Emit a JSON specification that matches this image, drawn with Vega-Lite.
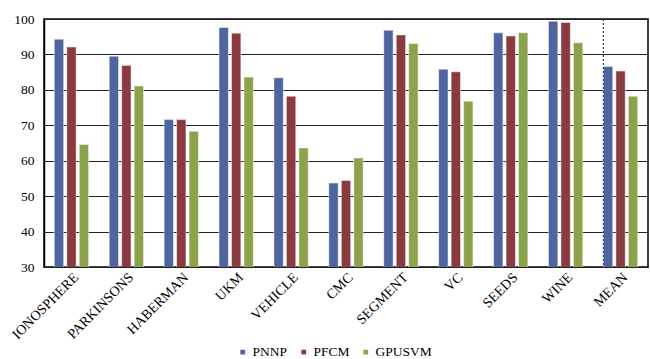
{
  "$schema": "https://vega.github.io/schema/vega-lite/v6.json",
  "width": 604,
  "height": 248,
  "autosize": "none",
  "padding": {"left": 44, "top": 19, "right": 2, "bottom": 92},
  "background": "white",
  "config": {
    "font": "'Liberation Serif', 'Times New Roman', Times, serif",
    "view": {"stroke": "#000", "strokeWidth": 1.5},
    "axis": {"labelFont": "'Liberation Serif', 'Times New Roman', Times, serif", "labelColor": "#000"},
    "legend": {"labelFont": "'Liberation Serif', 'Times New Roman', Times, serif", "labelColor": "#000"}
  },
  "datasets": {
    "scores": [
      {"dataset": "IONOSPHERE", "method": "PNNP", "value": 94.3},
      {"dataset": "IONOSPHERE", "method": "PFCM", "value": 92.1},
      {"dataset": "IONOSPHERE", "method": "GPUSVM", "value": 64.6},
      {"dataset": "PARKINSONS", "method": "PNNP", "value": 89.5},
      {"dataset": "PARKINSONS", "method": "PFCM", "value": 86.9},
      {"dataset": "PARKINSONS", "method": "GPUSVM", "value": 81.1},
      {"dataset": "HABERMAN", "method": "PNNP", "value": 71.6},
      {"dataset": "HABERMAN", "method": "PFCM", "value": 71.6},
      {"dataset": "HABERMAN", "method": "GPUSVM", "value": 68.3},
      {"dataset": "UKM", "method": "PNNP", "value": 97.6},
      {"dataset": "UKM", "method": "PFCM", "value": 96.0},
      {"dataset": "UKM", "method": "GPUSVM", "value": 83.6},
      {"dataset": "VEHICLE", "method": "PNNP", "value": 83.4},
      {"dataset": "VEHICLE", "method": "PFCM", "value": 78.2},
      {"dataset": "VEHICLE", "method": "GPUSVM", "value": 63.6},
      {"dataset": "CMC", "method": "PNNP", "value": 53.7},
      {"dataset": "CMC", "method": "PFCM", "value": 54.4},
      {"dataset": "CMC", "method": "GPUSVM", "value": 60.8},
      {"dataset": "SEGMENT", "method": "PNNP", "value": 96.8},
      {"dataset": "SEGMENT", "method": "PFCM", "value": 95.5},
      {"dataset": "SEGMENT", "method": "GPUSVM", "value": 93.1},
      {"dataset": "VC", "method": "PNNP", "value": 85.8},
      {"dataset": "VC", "method": "PFCM", "value": 85.1},
      {"dataset": "VC", "method": "GPUSVM", "value": 76.8},
      {"dataset": "SEEDS", "method": "PNNP", "value": 96.1},
      {"dataset": "SEEDS", "method": "PFCM", "value": 95.2},
      {"dataset": "SEEDS", "method": "GPUSVM", "value": 96.1},
      {"dataset": "WINE", "method": "PNNP", "value": 99.4},
      {"dataset": "WINE", "method": "PFCM", "value": 99.0},
      {"dataset": "WINE", "method": "GPUSVM", "value": 93.3},
      {"dataset": "MEAN", "method": "PNNP", "value": 86.6},
      {"dataset": "MEAN", "method": "PFCM", "value": 85.3},
      {"dataset": "MEAN", "method": "GPUSVM", "value": 78.2}
    ],
    "divider": [{"dataset": "MEAN"}]
  },
  "layer": [
    {
      "data": {"name": "scores"},
      "mark": {"type": "bar", "clip": true, "stroke": "#ffffff", "strokeOpacity": 0.6, "strokeWidth": 0.8},
      "encoding": {
        "x": {
          "field": "dataset", "type": "nominal", "title": null,
          "sort": ["IONOSPHERE", "PARKINSONS", "HABERMAN", "UKM", "VEHICLE", "CMC", "SEGMENT", "VC", "SEEDS", "WINE", "MEAN"],
          "scale": {"paddingInner": 0.375, "paddingOuter": 0.1875},
          "axis": {"labelAngle": -45, "labelAlign": "right", "labelBaseline": "top", "labelFontSize": 14, "ticks": false, "domain": false, "labelPadding": 3}
        },
        "xOffset": {"field": "method", "type": "nominal", "sort": ["PNNP", "PFCM", "GPUSVM"], "scale": {"paddingInner": 0.25, "paddingOuter": 0}},
        "y": {
          "field": "value", "type": "quantitative", "title": null,
          "scale": {"domain": [30, 100], "nice": false, "zero": false},
          "axis": {"values": [30, 40, 50, 60, 70, 80, 90, 100], "labelFontSize": 13.5, "ticks": false, "labelPadding": 10, "grid": true, "gridColor": "#222", "gridWidth": 1.2, "gridOpacity": 1, "domainColor": "#000", "domainWidth": 1.5}
        },
        "color": {
          "field": "method", "type": "nominal", "sort": ["PNNP", "PFCM", "GPUSVM"], "title": null,
          "scale": {"domain": ["PNNP", "PFCM", "GPUSVM"], "range": ["#4F65A0", "#8B3A40", "#8DA34B"]},
          "legend": {"orient": "none", "legendX": 192, "legendY": 326, "direction": "horizontal", "symbolType": "square", "symbolSize": 40, "labelFontSize": 13.5, "columnPadding": 9, "symbolOffset": 0, "labelOffset": 3}
        }
      }
    },
    {
      "data": {"name": "divider"},
      "mark": {"type": "rule", "strokeDash": [2, 2], "color": "#444", "strokeWidth": 1.2},
      "encoding": {
        "x": {"field": "dataset", "type": "nominal", "bandPosition": 0,
          "sort": ["IONOSPHERE", "PARKINSONS", "HABERMAN", "UKM", "VEHICLE", "CMC", "SEGMENT", "VC", "SEEDS", "WINE", "MEAN"]}
      }
    }
  ]
}
